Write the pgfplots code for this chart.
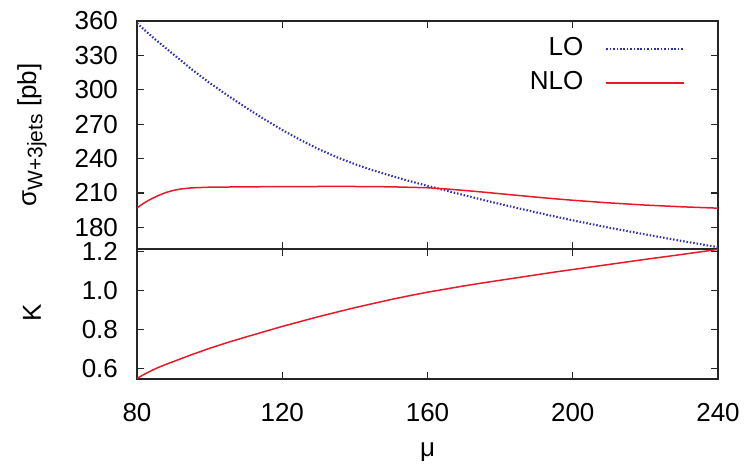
\documentclass[border=0pt]{standalone}
\usepackage{fontspec}
\setmainfont{Liberation Sans}
\usepackage{pgfplots}
\usepackage{pgfplotstable}
\pgfplotsset{compat=1.18}
\definecolor{loblue}{RGB}{45,45,190}
\definecolor{nlored}{RGB}{232,25,40}

% mu, LO and NLO cross section [pb], K = NLO/LO
\pgfplotstableread{
mu  LO    NLO    K
80  358.0 197.0  0.550
82  352.4 201.5  0.571
84  346.8 205.0  0.590
86  341.4 208.0  0.607
88  336.2 210.5  0.622
90  331.0 212.3  0.636
92  325.8 213.5  0.650
95  318.0 214.5  0.671
100 306.0 215.1  0.704
105 295.0 215.25 0.734
110 284.5 215.4  0.762
115 274.5 215.5  0.789
120 265.0 215.6  0.816
125 256.3 215.65 0.841
130 248.3 215.7  0.866
135 241.3 215.7  0.889
140 235.2 215.7  0.912
145 229.8 215.6  0.933
150 225.0 215.4  0.954
155 220.5 215.0  0.973
160 216.3 214.6  0.991
165 212.2 213.6  1.007
170 208.2 212.3  1.023
175 204.2 210.9  1.038
180 200.4 209.4  1.052
185 196.7 207.9  1.066
190 193.1 206.4  1.080
195 189.6 205.0  1.094
200 186.2 203.7  1.107
210 179.8 201.4  1.133
220 173.9 199.5  1.159
230 168.2 198.0  1.184
240 162.8 196.8  1.210
}\xsec

\begin{document}
\fontsize{13}{15.6}\selectfont
\begin{tikzpicture}
\path[use as bounding box] (-68.5pt,-46pt) rectangle (305.5pt,189.5pt);
\pgfplotsset{
  panel/.style={
    scale only axis, width=290.5pt,
    xmin=80, xmax=240, xtick={80,120,...,240},
    tick align=inside, tick pos=both, major tick length=3.5pt,
    axis line style={line width=0.6pt, black!85},
    every tick/.style={black!85, line width=0.6pt},
    /pgf/number format/assume math mode=true,
    tick label style={font=\fontsize{13}{15.6}\selectfont},
    yticklabel style={xshift=-5pt},
  }
}

% upper panel: cross sections
\begin{axis}[panel, at={(0,65pt)}, anchor=south west, height=114pt,
  ymin=161.2, ymax=360, ytick={180,210,...,360},
  xticklabels={},
  legend style={draw=none, fill=none, at={(axis description cs:0.955,0.968)},
    anchor=north east, font=\fontsize{13}{15.6}\selectfont,
    nodes={inner sep=2.5pt}, row sep=1pt},
  legend cell align=right, legend plot pos=right,
  legend image code/.code={\path[draw=none, fill=none] (0pt,0pt) rectangle (9pt,0.1pt); \draw[#1] (9pt,0pt) -- (48pt,0pt);},
]
\addplot[loblue, line width=1.05pt, dash pattern=on 0.75pt off 0.95pt]
  table[x=mu, y=LO]{\xsec};
\addlegendentry{LO}
\addplot[nlored, line width=0.75pt]
  table[x=mu, y=NLO]{\xsec};
\addlegendentry{NLO}
\end{axis}

% lower panel: K factor
\begin{axis}[panel, at={(0,0)}, anchor=south west, height=65pt,
  ymin=0.547, ymax=1.212, ytick={0.6,0.8,1.0,1.2},
  yticklabel style={/pgf/number format/.cd, fixed, fixed zerofill, precision=1, /tikz/.cd},
  xticklabel style={yshift=-7.5pt},
]
\addplot[nlored, line width=0.75pt]
  table[x=mu, y=K]{\xsec};
\end{axis}

\node[rotate=90, anchor=center] at (-52.5pt,122pt)
  {σ\raisebox{-0.45ex}{\fontsize{10.5}{12}\selectfont W+3jets} [pb]};
\node[rotate=90, anchor=center] at (-52.5pt,33pt) {K};
\node[anchor=center] at (145.25pt,-36.5pt) {μ};
\end{tikzpicture}
\end{document}
